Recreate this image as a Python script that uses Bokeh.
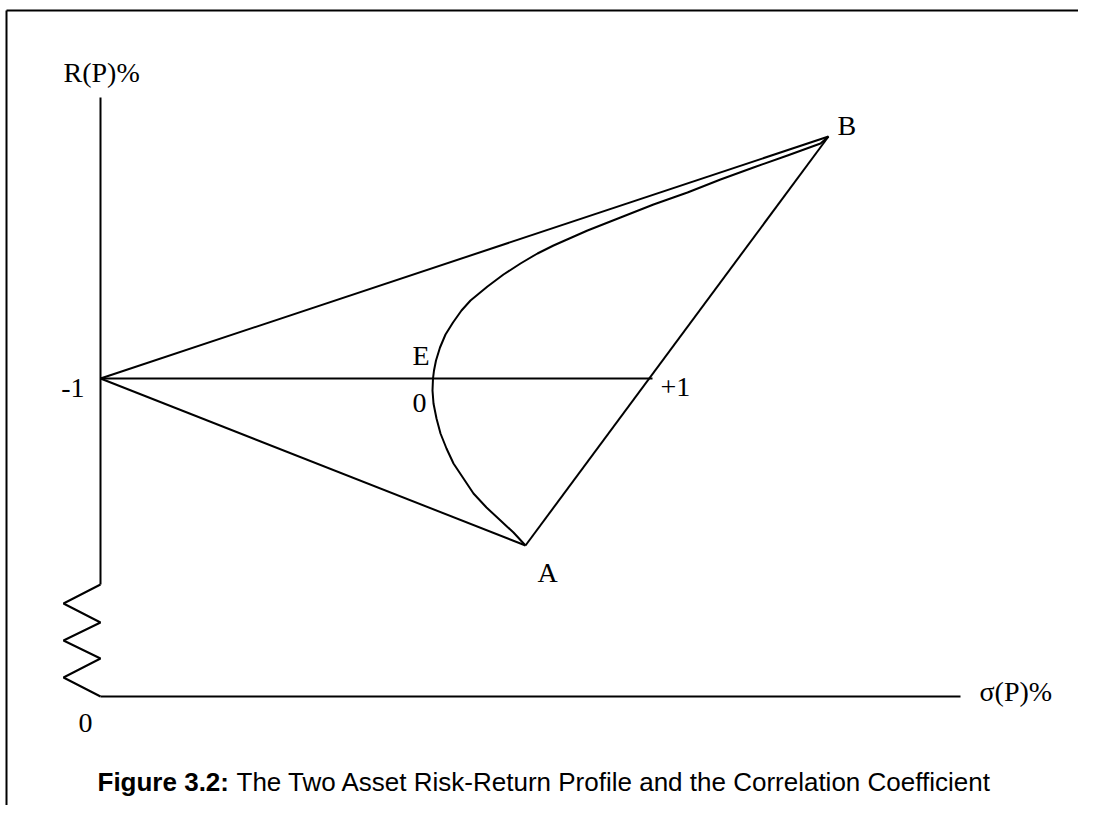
from bokeh.plotting import figure
from bokeh.models import Range1d
from bokeh.core.properties import value
from bokeh.embed import file_html
from bokeh.resources import INLINE

# ---- data (sigma(P) units, R(P) units; origin at the axis corner) ----
sigma_A, R_A = 425, 151
sigma_B, R_B = 728, 560
R_minus1 = 318            # zero-risk portfolio for rho = -1
sigma_plus1_end = 552     # end of the horizontal line at "+1"
R_axis_top = 599
R_break_top = 112
# zig-zag axis break
break_sigma = [0, -37, 0, -37, 0, -37, 0]
break_R = [112, 93, 74, 56, 38, 19, 0]
sigma_axis_end = 860

# rho = 0 curve
curve_sigma = [728, 720, 687, 653, 620, 587, 553, 520, 487, 453, 437, 420, 403, 387,
               370, 361, 352.5, 345, 339.5, 335.5, 333.5, 332.5, 332, 333, 336, 340, 346, 353,
               363, 373, 386, 400, 413, 425]
curve_R = [560, 553, 541, 529, 517, 504, 492, 479, 466, 451, 443, 433, 422, 410,
           396, 386, 374, 362, 349, 336, 326, 318, 306, 293, 278, 263, 248, 233,
           218, 203, 189, 176, 164, 151]

# labels
label_text = ["R(P)%", "-1", "E", "0", "+1", "B", "A", "0", "σ(P)%"]
label_x = [-37, -16, 312, 312, 560, 737, 437, -22, 879]
label_y = [624, 309, 341, 294, 310, 571, 124, -26, 5]
label_align = ["left", "right", "left", "left", "left", "left", "left", "left", "left"]

caption_bold = "Figure 3.2:"
caption_rest = "The Two Asset Risk-Return Profile and the Correlation Coefficient"

W, H = 1078, 805
X0, Y1 = -100, 696
p = figure(width=W, height=H, output_backend="svg", toolbar_location=None,
           x_range=Range1d(X0, X0 + W), y_range=Range1d(Y1 - H, Y1),
           min_border=0)
p.axis.visible = False
p.grid.visible = False
p.outline_line_color = None
p.background_fill_color = "white"

lw = 2
col = "black"
# frame border (top and left only)
p.line([-94, X0 + W], [686, 686], line_color=col, line_width=2)
p.line([-94, -94], [686, Y1 - H], line_color=col, line_width=2)

# axes
p.line([0, 0], [R_axis_top, R_break_top], line_color=col, line_width=lw)
p.line(break_sigma, break_R, line_color=col, line_width=lw)
p.line([0, sigma_axis_end], [0, 0], line_color=col, line_width=lw)

# rho = -1 lines
p.line([0, sigma_B], [R_minus1, R_B], line_color=col, line_width=lw)
p.line([0, sigma_A], [R_minus1, R_A], line_color=col, line_width=lw)
# rho = +1 line
p.line([sigma_A, sigma_B], [R_A, R_B], line_color=col, line_width=lw)
# horizontal
p.line([0, sigma_plus1_end], [R_minus1, R_minus1], line_color=col, line_width=lw)
# rho = 0 curve
p.line(curve_sigma, curve_R, line_color=col, line_width=lw, line_join="round")

for t, x, y, a in zip(label_text, label_x, label_y, label_align):
    p.text(x=[x], y=[y], text=[t], text_font=value("Liberation Serif"),
           text_font_size="28px", text_align=a, text_baseline="middle", text_color="black")

p.text(x=[-3], y=[-85], text=[caption_bold], text_font=value("Liberation Sans"),
       text_font_style="bold", text_font_size="26px", text_baseline="middle", text_color="black")
p.text(x=[136], y=[-85], text=[caption_rest], text_font=value("Liberation Sans"),
       text_font_size="26px", text_baseline="middle", text_color="black")

open("out.html", "w").write(file_html(p, INLINE))
